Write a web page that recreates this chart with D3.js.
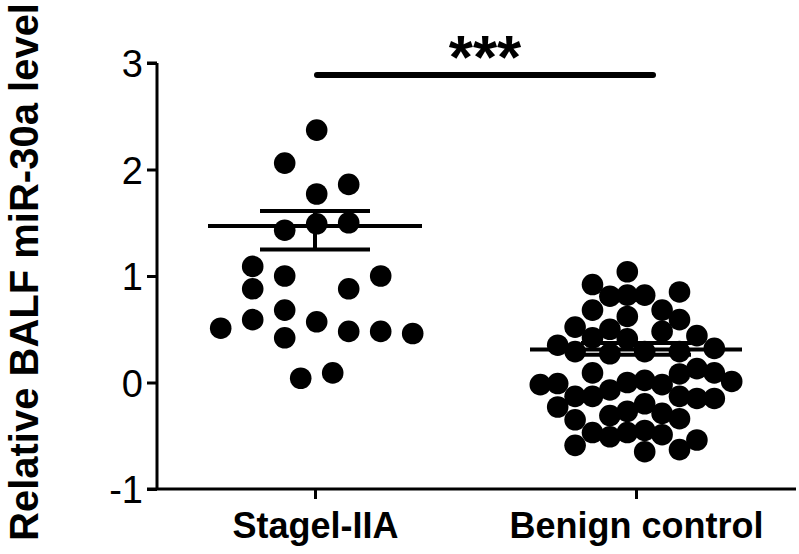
<!DOCTYPE html>
<html>
<head>
<meta charset="utf-8">
<script src="https://cdn.jsdelivr.net/npm/d3@7"></script>
<style>
  html, body { margin: 0; padding: 0; background: #fff; }
  svg { display: block; }
</style>
</head>
<body>
<div id="chart"></div>
<script>
// Scatter (dot) plot with mean +/- SEM for two groups

var groups = ['Stagel-IIA', 'Benign control'];
var yTicks = [-1, 0, 1, 2, 3];

// values and column slot (beeswarm column) of each dot
var stageValues = [2.37, 2.06, 1.86, 1.77, 1.43, 1.49, 1.50, 1.09, 1.00, 0.88, 1.00,
                   0.88, 0.68, 0.59, 0.51, 0.57, 0.42, 0.48, 0.48, 0.46, 0.04, 0.09];
var stageSlots  = [0, -1, 1, 0, -1, 0, 1, -2, -1, -2, 2,
                   1, -1, -2, -3, 0, -1, 1, 2, 3, -0.5, 0.5];

var benignValues = [1.04, 0.92, 0.85, 0.81, 0.82, 0.82, 0.68, 0.68, 0.62, 0.59,
                    0.52, 0.50, 0.48, 0.44, 0.42, 0.41, 0.35, 0.29, 0.27, 0.29,
                    0.29, 0.32, 0.09, 0.08, 0.13, 0.09, -0.02, -0.01, 0.00, 0.02,
                    -0.02, 0.01, -0.13, -0.13, -0.07, -0.13, -0.15, -0.15, -0.23, -0.20,
                    -0.31, -0.27, -0.29, -0.35, -0.34, -0.47, -0.51, -0.47, -0.45, -0.49,
                    -0.59, -0.54, -0.63, -0.65];
var benignSlots  = [-0.5, -2.5, 2.5, -1.5, -0.5, 0.5, -2.5, 1.5, -0.5, 2.5,
                    -3.5, -1.5, 1.5, 3.5, -2.5, -0.5, -4.5, -3.5, -1.5, 0.5,
                    2.5, 4.5, -2.5, 2.5, 3.5, 4.5, -5.5, -4.5, -0.5, 0.5,
                    1.5, 5.5, -3.5, -2.5, -1.5, 2.5, 3.5, 4.5, -4.5, 0.5,
                    -1.5, -0.5, 1.5, -3.5, 2.5, -2.5, -1.5, -0.5, 0.5, 1.5,
                    -3.5, 3.5, 2.5, 0.5];

var means   = [1.47, 0.31];
var errHigh = [1.61, 0.37];
var errLow  = [1.25, 0.26];
var significance = '***';

var width = 799, height = 554;
var margin = {top: 63, right: 3, bottom: 65, left: 157};
var font = 'Liberation Sans, Arial, sans-serif';

var svg = d3.select('#chart').append('svg')
    .attr('width', width)
    .attr('height', height);

var y = d3.scaleLinear()
    .domain([-1, 3])
    .range([height - margin.bottom, margin.top]);

var x = d3.scalePoint()
    .domain(groups)
    .range([315, 636]);

// slot width (px) differs per group, as in the original swarm
var slotWidth = [32, 17.4];
var meanHalf = [107, 106];
var capHalf = [55, 55];

var yAxis = svg.append('g')
    .attr('transform', 'translate(' + margin.left + ',0)')
    .call(d3.axisLeft(y).tickValues(yTicks).tickSize(10).tickPadding(4)
        .tickFormat(function(d) { return String(d); }));
yAxis.select('.domain').attr('stroke-width', 3).attr('d', 'M0,' + y(3) + 'H-10M0,' + y(3) + 'V' + y(-1));
yAxis.selectAll('.tick line').attr('stroke-width', 3);
yAxis.selectAll('text')
    .style('font-family', font)
    .style('font-size', '38px')
    .attr('dy', '0.36em')
    .attr('fill', '#000');

var xAxis = svg.append('g')
    .attr('transform', 'translate(0,' + y(-1) + ')')
    .call(d3.axisBottom(x).tickSize(10).tickPadding(13));
xAxis.select('.domain').attr('stroke-width', 3).attr('d', 'M' + (margin.left - 10) + ',0H' + (width - margin.right));
xAxis.selectAll('.tick line').attr('stroke-width', 3);
xAxis.selectAll('text')
    .style('font-family', font)
    .style('font-size', '36px')
    .style('font-weight', 'bold')
    .attr('fill', '#000');

svg.append('text')
    .attr('transform', 'translate(38,' + 272 + ') rotate(-90)')
    .attr('text-anchor', 'middle')
    .style('font-family', font)
    .style('font-size', '40px')
    .style('font-weight', 'bold')
    .text('Relative BALF miR-30a level');

var sets = [
    stageValues.map(function(v, i) { return {g: 0, v: v, s: stageSlots[i]}; }),
    benignValues.map(function(v, i) { return {g: 1, v: v, s: benignSlots[i]}; })
];
var dots = sets[0].concat(sets[1]);

svg.append('g').selectAll('circle')
    .data(dots)
    .enter().append('circle')
    .attr('cx', function(d) { return x(groups[d.g]) + d.s * slotWidth[d.g] + (d.g === 0 ? 1.7 : 0); })
    .attr('cy', function(d) { return y(d.v); })
    .attr('r', 10.8)
    .attr('fill', '#000');

// mean and error bars
var stats = svg.append('g').selectAll('g')
    .data(groups)
    .enter().append('g');
stats.append('line')
    .attr('x1', function(d, i) { return x(d) - meanHalf[i]; })
    .attr('x2', function(d, i) { return x(d) + meanHalf[i]; })
    .attr('y1', function(d, i) { return y(means[i]); })
    .attr('y2', function(d, i) { return y(means[i]); })
    .attr('stroke', '#000').attr('stroke-width', 4);
stats.append('line')
    .attr('x1', function(d) { return x(d); })
    .attr('x2', function(d) { return x(d); })
    .attr('y1', function(d, i) { return y(errHigh[i]); })
    .attr('y2', function(d, i) { return y(errLow[i]); })
    .attr('stroke', '#000').attr('stroke-width', 4);
[errHigh, errLow].forEach(function(arr) {
    stats.append('line')
        .attr('x1', function(d, i) { return x(d) - capHalf[i]; })
        .attr('x2', function(d, i) { return x(d) + capHalf[i]; })
        .attr('y1', function(d, i) { return y(arr[i]); })
        .attr('y2', function(d, i) { return y(arr[i]); })
        .attr('stroke', '#000').attr('stroke-width', 4);
});

// significance bar
svg.append('line')
    .attr('x1', x(groups[0]) + 2)
    .attr('x2', x(groups[1]) + 17)
    .attr('y1', 75).attr('y2', 75)
    .attr('stroke', '#000')
    .attr('stroke-width', 6)
    .attr('stroke-linecap', 'round');
svg.append('text')
    .attr('x', 485)
    .attr('y', 78)
    .attr('text-anchor', 'middle')
    .style('font-family', font)
    .style('font-size', '62px')
    .style('font-weight', 'bold')
    .text(significance);
</script>
</body>
</html>
